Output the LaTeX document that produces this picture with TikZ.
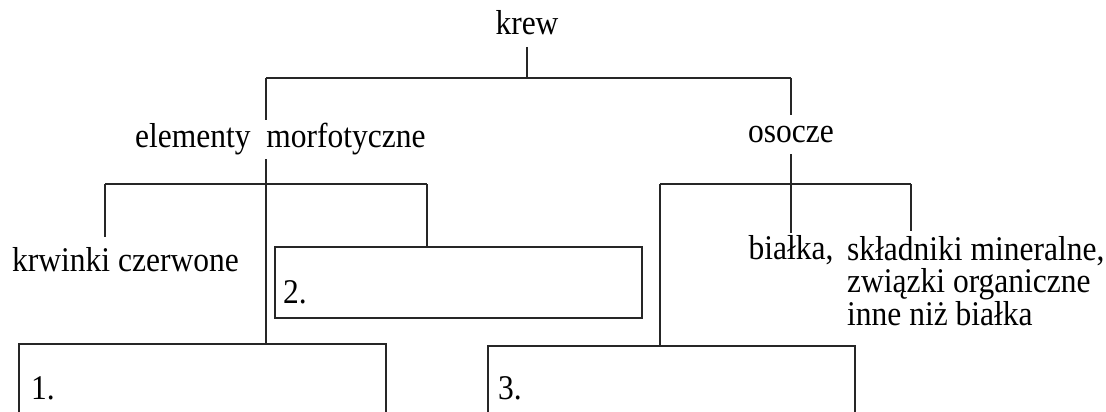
\documentclass[tikz,border=0pt]{standalone}
\usepackage{graphicx}
\usepackage{fontspec}
\setmainfont{Liberation Serif}
\usetikzlibrary{backgrounds}
\newcommand{\tallt}[1]{\scalebox{1}[1.1]{#1}}
\begin{document}
\begin{tikzpicture}[x=1pt,y=-1pt,
  txt/.style={font=\fontsize{31.5}{31.5}\selectfont, text=black},
  lbl/.style={txt, inner sep=0pt, text height=23.5pt, text depth=7.7pt},
  cover/.style={lbl, fill=white, inner xsep=3pt, inner ysep=4pt},
  conn/.style={draw=black!85, line width=1.6pt},
  boxstyle/.style={draw=black!85, line width=1.6pt, minimum width=367pt, minimum height=71pt, inner sep=0pt}
]
\useasboundingbox (0,0) rectangle (1106,412);

% labels
\node[lbl, anchor=base] (krew) at (527,35) {\tallt{krew}};
\node[cover, anchor=base west] (em) at (132,147) {\tallt{elementy\ \ morfotyczne}};
\node[cover, anchor=base] (os) at (791,142) {\tallt{osocze}};
\node[lbl, anchor=base west] (kr) at (12,271) {\tallt{krwinki czerwone}};
\node[lbl, anchor=base] (bi) at (791,259) {\tallt{białka,}};
\node[txt, align=left, inner sep=0pt, anchor=base west] (skl) at (847,325) {\tallt{składniki mineralne,}\\\tallt{związki organiczne}\\\tallt{inne niż białka}};

% boxes
\node[boxstyle] (box2) at (458.5,282.5) {};
\node[lbl, anchor=base west] (n2) at (283,303) {\tallt{2.}};
\node[lbl, anchor=base west] (n1) at (31,399) {\tallt{1.}};
\node[lbl, anchor=base west] (n3) at (498,399) {\tallt{3.}};

% junction coordinates
\coordinate (jtop) at (527,78);
\coordinate (jL) at (266,78);
\coordinate (jR) at (791,78);
\coordinate (jL2a) at (105,184);
\coordinate (jL2b) at (427,184);
\coordinate (jR2a) at (660,184);
\coordinate (jR2b) at (911,184);
\coordinate (b1top) at (266,344);
\coordinate (b3top) at (660,346);
\coordinate (b1bl) at (19,412);
\coordinate (b1br) at (386,412);
\coordinate (b3bl) at (488,412);
\coordinate (b3br) at (855,412);

\begin{scope}[on background layer]
  % open boxes 1 and 3 (cut off at the bottom)
  \draw[conn] (b1bl) |- (b1br |- b1top) -- (b1br);
  \draw[conn] (b3bl) |- (b3br |- b3top) -- (b3br);
  % tree connectors
  \draw[conn] (krew.south) ++(0,4) -- (jtop);
  \draw[conn] (jL) -- (jR);
  \draw[conn] (jL) -- (b1top);
  \draw[conn] (jL2a) -- (jL2b);
  \draw[conn, shorten >=10.5pt] (jL2a) -- (jL2a |- kr.north);
  \draw[conn] (jL2b) -- (jL2b |- box2.north);
  \draw[conn, shorten >=2.5pt] (jR) -- (jR |- bi.north);
  \draw[conn] (jR2a) -- (jR2b);
  \draw[conn] (jR2a) -- (b3top);
  \draw[conn, shorten >=6pt] (jR2b) -- (jR2b |- skl.north);
\end{scope}
\end{tikzpicture}
\end{document}
